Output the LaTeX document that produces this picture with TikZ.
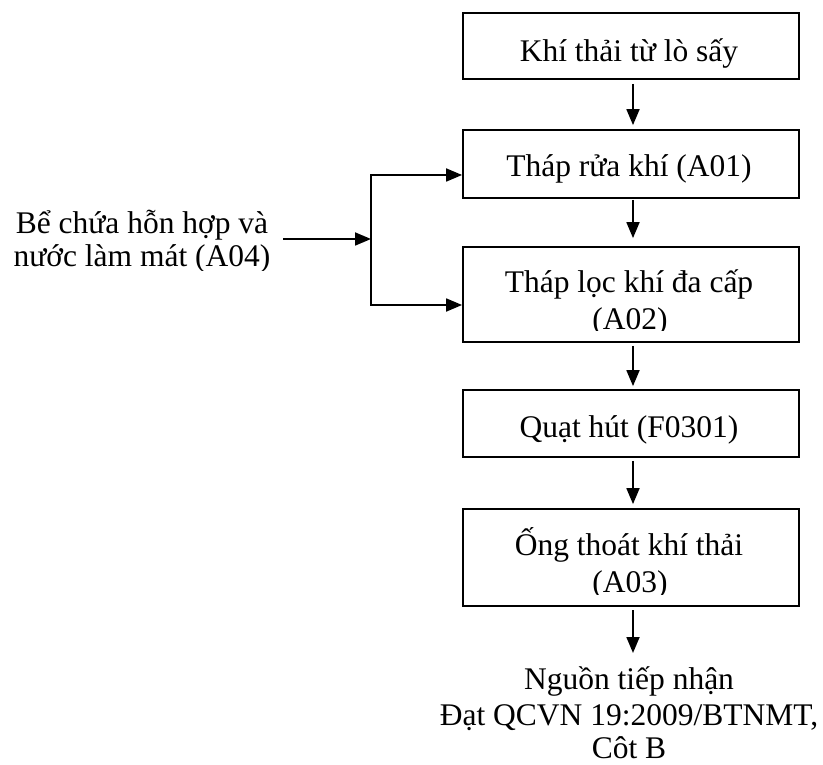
\documentclass[tikz,border=0pt]{standalone}
\usepackage{fontspec}
\setmainfont{Liberation Serif}
\usetikzlibrary{arrows.meta}
\tikzset{
  box/.style={draw, line width=1.8pt, minimum width=336pt, inner sep=0pt},
  lbl/.style={anchor=base, inner sep=0pt, font=\fontsize{31.5}{36}\selectfont},
  arr/.style={line width=1.8pt, -{Triangle[length=16pt,width=13pt]}},
  ln/.style={line width=1.8pt},
}
\begin{document}
\begin{tikzpicture}[x=1pt,y=-1pt]
\useasboundingbox (0,0) rectangle (823,765);
% boxes
\node[box, minimum height=66pt] (b1) at (631,46) {};
\node[box, minimum height=68pt] (b2) at (631,164) {};
\node[box, minimum height=95pt] (b3) at (631,294.5) {};
\node[box, minimum height=67pt] (b4) at (631,423.5) {};
\node[box, minimum height=97pt] (b5) at (631,557.5) {};
% box texts
\node[lbl] (t1) at (629,62) {Khí thải từ lò sấy};
\node[lbl] (t2) at (629,177) {Tháp rửa khí (A01)};
\begin{scope}
  \clip ([xshift=1pt]b3.north west) rectangle ([yshift=12pt,xshift=-1pt]b3.south east);
  \node[lbl] (t3a) at (629,293) {Tháp lọc khí đa cấp};
  \node[lbl] (t3b) at (630,329) {(A02)};
\end{scope}
\node[lbl] (t4) at (629,437) {Quạt hút (F0301)};
\begin{scope}
  \clip ([xshift=1pt]b5.north west) rectangle ([yshift=12pt,xshift=-1pt]b5.south east);
  \node[lbl] (t5a) at (629,555) {Ống thoát khí thải};
  \node[lbl] (t5b) at (630,592) {(A03)};
\end{scope}
% left source text
\begin{scope}
  \clip (0,195) rectangle (280,271);
  \node[lbl] (lt1) at (142,234) {Bể chứa hỗn hợp và};
  \node[lbl] (lt2) at (142,267) {nước làm mát (A04)};
\end{scope}
% output text
\node[lbl] (o1) at (629,689) {Nguồn tiếp nhận};
\node[lbl] (o2) at (629,725) {Đạt QCVN 19:2009/BTNMT,};
\node[lbl] (o3) at (629,758) {Côt B};
% vertical arrows
\coordinate (a0) at (633,610);
\coordinate (a1) at (633,653);
\draw[arr, shorten <=4pt, shorten >=4pt] ([xshift=2pt]b1.south) -- ([xshift=2pt]b2.north);
\draw[arr, shorten <=1pt, shorten >=8pt] ([xshift=2pt]b2.south) -- ([xshift=2pt]b3.north);
\draw[arr, shorten <=3pt, shorten >=3pt] ([xshift=2pt]b3.south) -- ([xshift=2pt]b4.north);
\draw[arr, shorten <=3pt, shorten >=4pt] ([xshift=2pt]b4.south) -- ([xshift=2pt]b5.north);
\draw[arr] (a0) -- (a1);
% branch from left source
\coordinate (src) at (283,239);
\coordinate (jm) at (371,239);
\coordinate (jt) at (371,175);
\coordinate (jb) at (371,305);
\draw[arr] (src) -- (jm);
\draw[ln] ([yshift=0.9pt]jt) -- ([yshift=-0.9pt]jb);
\draw[arr] (jt) -- (jt -| b2.west);
\draw[arr] (jb) -- (jb -| b3.west);
\end{tikzpicture}
\end{document}
